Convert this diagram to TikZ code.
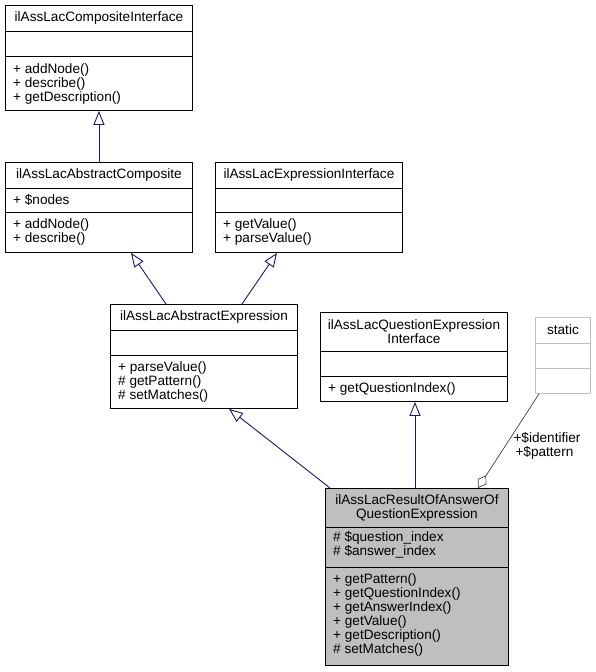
\documentclass[tikz,border=0pt]{standalone}
\usepackage{fontspec}
\setmainfont{Liberation Sans}
\usetikzlibrary{arrows.meta,calc}
\definecolor{edgeblue}{HTML}{191970}
\definecolor{boxgray}{HTML}{BFBFBF}
\definecolor{usegray}{HTML}{404040}
\begin{document}
\begin{tikzpicture}[x=1pt,y=-1pt,
  cls/.style={draw=black, line width=0.9pt, fill=white, inner sep=0pt, anchor=north west},
  divl/.style={draw=black, line width=0.9pt},
  txt/.style={inner sep=0pt, font=\fontsize{13.6}{14}\selectfont, align=left},
  ttl/.style={inner sep=0pt, font=\fontsize{13.6}{14}\selectfont, align=center},
  inh/.style={draw=edgeblue, line width=0.9pt, -{Triangle[open, length=14pt, width=11pt]}},
  agg/.style={draw=usegray, line width=0.7pt, -{Diamond[open, length=15pt, width=10pt]}}]
\useasboundingbox[fill=white] (0,0) rectangle (595,672);

% Box 1: ilAssLacCompositeInterface
\node[cls, minimum width=187pt, minimum height=105pt] (c1) at (5,5) {};
\draw[divl] ($(c1.north west)+(0,26)$) -- ($(c1.north east)+(0,26)$);
\draw[divl] ($(c1.north west)+(0,51)$) -- ($(c1.north east)+(0,51)$);
\node[ttl] (t1) at ($(c1.north)+(0,13)$) {ilAssLacCompositeInterface};
\node[txt, anchor=west] (m1) at ($(c1.north west)+(8,79)$) {+ addNode()\\+ describe()\\+ getDescription()};

% Box 2: ilAssLacAbstractComposite
\node[cls, minimum width=187pt, minimum height=90pt] (c2) at (5,162) {};
\draw[divl] ($(c2.north west)+(0,26)$) -- ($(c2.north east)+(0,26)$);
\draw[divl] ($(c2.north west)+(0,50)$) -- ($(c2.north east)+(0,50)$);
\node[ttl] (t2) at ($(c2.north)+(0,13)$) {ilAssLacAbstractComposite};
\node[txt, anchor=west] (a2) at ($(c2.north west)+(8,38)$) {+ \$nodes};
\node[txt, anchor=west] (m2) at ($(c2.north west)+(8,70)$) {+ addNode()\\+ describe()};

% Box 3: ilAssLacExpressionInterface
\node[cls, minimum width=187pt, minimum height=90pt] (c3) at (215,162) {};
\draw[divl] ($(c3.north west)+(0,26)$) -- ($(c3.north east)+(0,26)$);
\draw[divl] ($(c3.north west)+(0,50)$) -- ($(c3.north east)+(0,50)$);
\node[ttl] (t3) at ($(c3.north)+(0,13)$) {ilAssLacExpressionInterface};
\node[txt, anchor=west] (m3) at ($(c3.north west)+(8,70)$) {+ getValue()\\+ parseValue()};

% Box 4: ilAssLacAbstractExpression
\node[cls, minimum width=187pt, minimum height=104pt] (c4) at (110,304) {};
\draw[divl] ($(c4.north west)+(0,26)$) -- ($(c4.north east)+(0,26)$);
\draw[divl] ($(c4.north west)+(0,51)$) -- ($(c4.north east)+(0,51)$);
\node[ttl] (t4) at ($(c4.north)+(0,13)$) {ilAssLacAbstractExpression};
\node[txt, anchor=west] (m4) at ($(c4.north west)+(8,78)$) {+ parseValue()\\\# getPattern()\\\# setMatches()};

% Box 5: ilAssLacQuestionExpressionInterface
\node[cls, minimum width=187pt, minimum height=89pt] (c5) at (320,312) {};
\draw[divl] ($(c5.north west)+(0,39)$) -- ($(c5.north east)+(0,39)$);
\draw[divl] ($(c5.north west)+(0,64)$) -- ($(c5.north east)+(0,64)$);
\node[ttl] (t5) at ($(c5.north)+(0,19.5)$) {ilAssLacQuestionExpression\\Interface};
\node[txt, anchor=west] (m5) at ($(c5.north west)+(8,76.5)$) {+ getQuestionIndex()};

% Box 6: static
\node[cls, draw=boxgray, minimum width=55pt, minimum height=76pt] (c6) at (535,317) {};
\draw[divl, draw=boxgray] ($(c6.north west)+(0,26)$) -- ($(c6.north east)+(0,26)$);
\draw[divl, draw=boxgray] ($(c6.north west)+(0,51)$) -- ($(c6.north east)+(0,51)$);
\node[ttl] (t6) at ($(c6.north)+(0,13)$) {static};

% Box 7: ilAssLacResultOfAnswerOfQuestionExpression
\node[cls, fill=boxgray, minimum width=183pt, minimum height=177pt] (c7) at (325,488) {};
\draw[divl] ($(c7.north west)+(0,39)$) -- ($(c7.north east)+(0,39)$);
\draw[divl] ($(c7.north west)+(0,79)$) -- ($(c7.north east)+(0,79)$);
\node[ttl] (t7) at ($(c7.north)+(0,19.5)$) {ilAssLacResultOfAnswerOf\\QuestionExpression};
\node[txt, anchor=west] (a7) at ($(c7.north west)+(8,57)$) {\# \$question\_index\\\# \$answer\_index};
\node[txt, anchor=west] (m7) at ($(c7.north west)+(8,127)$) {+ getPattern()\\+ getQuestionIndex()\\+ getAnswerIndex()\\+ getValue()\\+ getDescription()\\\# setMatches()};

% Inheritance edges
\draw[inh] (c2.north) -- (c1.south);
\draw[inh] ($(c4.north west)+(56,0)$) -- ($(c2.south west)+(126,0)$);
\draw[inh] ($(c4.north west)+(132,0)$) -- ($(c3.south west)+(62,0)$);
\draw[inh] ($(c7.north west)+(5,0)$) -- ($(c4.south west)+(119,0)$);
\draw[inh] ($(c7.north west)+(90,0)$) -- ($(c5.south west)+(95,0)$);

% Aggregation (usage) edge
\draw[agg] ($(c6.south west)+(4,0)$) -- ($(c7.north west)+(153,0)$);
\node[ttl, align=left] (lbl) at (547,446) {+\$identifier\\\hspace*{2pt}+\$pattern};

\end{tikzpicture}
\end{document}
